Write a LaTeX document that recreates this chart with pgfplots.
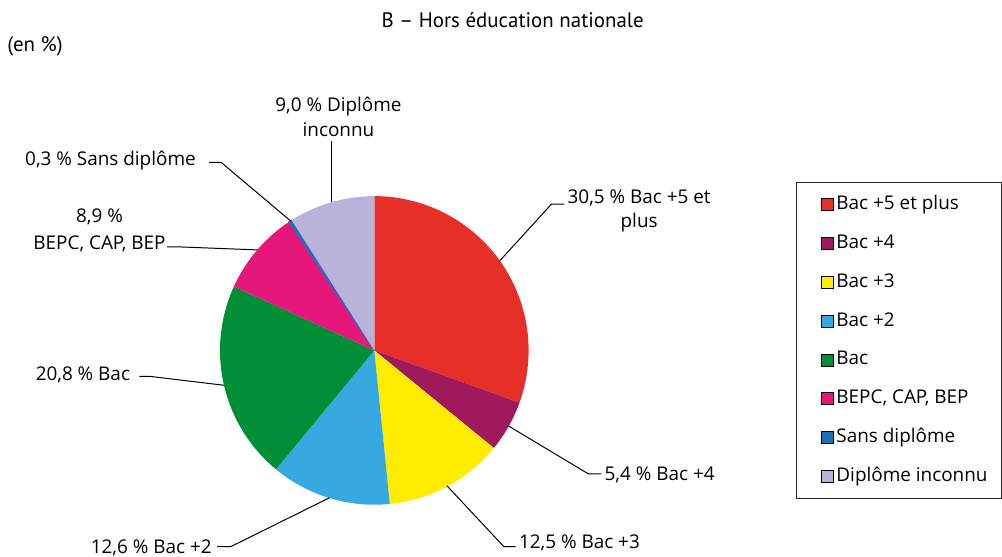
\documentclass[border=0pt]{standalone}
\usepackage{fontspec}
\setmainfont{Open Sans}
\newfontfamily\titlefont{PT Sans}
\usepackage{pgfplots}
\pgfplotsset{compat=1.18}

\definecolor{cA}{RGB}{230,48,39}
\definecolor{cB}{RGB}{160,25,90}
\definecolor{cC}{RGB}{255,236,0}
\definecolor{cD}{RGB}{54,169,225}
\definecolor{cE}{RGB}{0,143,54}
\definecolor{cF}{RGB}{230,23,122}
\definecolor{cG}{RGB}{29,113,184}
\definecolor{cH}{RGB}{185,179,218}

% shares (%)
\def\vA{30.5}\def\vB{5.4}\def\vC{12.5}\def\vD{12.6}
\def\vE{20.8}\def\vF{8.9}\def\vG{0.3}\def\vH{9.0}

\begin{document}
\begin{tikzpicture}
\pgfmathsetmacro\aA{90}
\pgfmathsetmacro\aB{\aA-3.6*\vA}
\pgfmathsetmacro\aC{\aB-3.6*\vB}
\pgfmathsetmacro\aD{\aC-3.6*\vC}
\pgfmathsetmacro\aE{\aD-3.6*\vD}
\pgfmathsetmacro\aF{\aE-3.6*\vE}
\pgfmathsetmacro\aG{\aF-3.6*\vF}
\pgfmathsetmacro\aH{\aG-3.6*\vG}
\pgfmathsetmacro\aI{\aH-3.6*\vH}
\begin{axis}[
  scale only axis, width=501pt, height=279.5pt,
  xmin=0, xmax=1002, ymin=0, ymax=559,
  hide axis, clip=false,
  legend style={at={(axis cs:799.5,376)}, anchor=north west,
    draw=black!85, line width=0.5pt, font=\fontsize{9.5}{11}\selectfont,
    row sep=10.5pt, inner xsep=7pt, inner ysep=6.5pt,
    nodes={inner xsep=0pt, inner ysep=0pt, text height=7pt, text depth=2pt}},
  legend cell align=left,
  legend image code/.code={\path (-5pt,0pt) (7.5pt,0pt);\draw[#1, draw=black, line width=0.3pt] (0pt,-3pt) rectangle (6pt,3pt);},
]
\path (axis cs:0,0) rectangle (axis cs:1002,559);
\addplot[fill=cA, draw=none, domain=\aB:\aA, samples=60, variable=\t] ({376+155*cos(\t)},{207+155*sin(\t)}) -- (axis cs:376,207) -- cycle;
\addlegendentry{Bac +5 et plus}
\addplot[fill=cB, draw=none, domain=\aC:\aB, samples=20, variable=\t] ({376+155*cos(\t)},{207+155*sin(\t)}) -- (axis cs:376,207) -- cycle;
\addlegendentry{Bac +4}
\addplot[fill=cC, draw=none, domain=\aD:\aC, samples=40, variable=\t] ({376+155*cos(\t)},{207+155*sin(\t)}) -- (axis cs:376,207) -- cycle;
\addlegendentry{Bac +3}
\addplot[fill=cD, draw=none, domain=\aE:\aD, samples=40, variable=\t] ({376+155*cos(\t)},{207+155*sin(\t)}) -- (axis cs:376,207) -- cycle;
\addlegendentry{Bac +2}
\addplot[fill=cE, draw=none, domain=\aF:\aE, samples=50, variable=\t] ({376+155*cos(\t)},{207+155*sin(\t)}) -- (axis cs:376,207) -- cycle;
\addlegendentry{Bac}
\addplot[fill=cF, draw=none, domain=\aG:\aF, samples=30, variable=\t] ({376+155*cos(\t)},{207+155*sin(\t)}) -- (axis cs:376,207) -- cycle;
\addlegendentry{BEPC, CAP, BEP}
\addplot[fill=cG, draw=cG, line width=0.6pt, domain=\aH:\aG, samples=3, variable=\t] ({376+155*cos(\t)},{207+155*sin(\t)}) -- (axis cs:376,207) -- cycle;
\addlegendentry{Sans diplôme}
\addplot[fill=cH, draw=none, domain=\aI:\aH, samples=30, variable=\t] ({376+155*cos(\t)},{207+155*sin(\t)}) -- (axis cs:376,207) -- cycle;
\addlegendentry{Diplôme inconnu}

% leader lines
\draw[line width=0.5pt] (axis cs:502,297) -- (axis cs:554,354) -- (axis cs:567,354);
\draw[line width=0.5pt] (axis cs:511,131) -- (axis cs:591,83) -- (axis cs:604,83);
\draw[line width=0.5pt] (axis cs:449,71) -- (axis cs:506,10) -- (axis cs:518,10);
\draw[line width=0.5pt] (axis cs:331,59) -- (axis cs:232,10) -- (axis cs:218,10);
\draw[line width=0.5pt] (axis cs:225,172) -- (axis cs:150,181) -- (axis cs:140,181);
\draw[line width=0.5pt] (axis cs:258,308) -- (axis cs:180,311) -- (axis cs:168,311);
\draw[line width=0.5pt] (axis cs:292,337) -- (axis cs:222,396) -- (axis cs:210,396);
\draw[line width=0.5pt] (axis cs:333,356) -- (axis cs:333,417);

% labels
\begin{scope}[every node/.style={font=\fontsize{9.5}{12}\selectfont, inner sep=0pt}]
\node[align=center] at (axis cs:642,347) {30,5 \% Bac +5 et\\plus};
\node[anchor=west] at (axis cs:607,82) {5,4 \% Bac +4};
\node[anchor=west] at (axis cs:521,14) {12,5 \% Bac +3};
\node[anchor=east] at (axis cs:213,9) {12,6 \% Bac +2};
\node[anchor=east] at (axis cs:131,182) {20,8 \% Bac};
\node[align=center, font=\fontsize{9.5}{13.5}\selectfont] at (axis cs:100,328) {8,9 \%\\BEPC, CAP, BEP};
\node[anchor=east] at (axis cs:197,398) {0,3 \% Sans diplôme};
\node[align=center, font=\fontsize{9.5}{12.5}\selectfont] at (axis cs:340,442) {9,0 \% Diplôme\\inconnu};
\end{scope}
\node[font=\titlefont\fontsize{10.5}{12}\selectfont, inner sep=0pt] at (axis cs:515,539) {B – Hors éducation nationale};
\node[font=\titlefont\fontsize{10.5}{12}\selectfont, inner sep=0pt, anchor=west] at (axis cs:7,512) {(en \%)};
\end{axis}
\end{tikzpicture}
\end{document}
